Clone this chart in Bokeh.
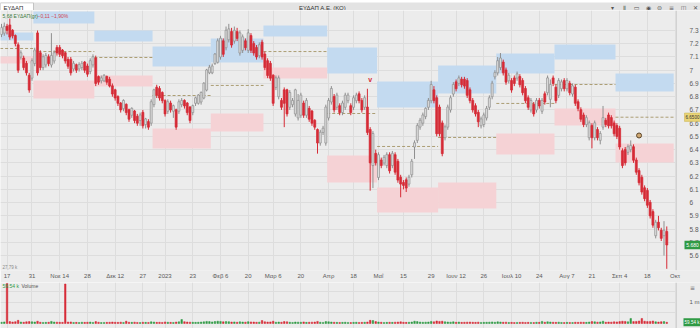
from bokeh.plotting import figure
from bokeh.models import Range1d, FixedTicker, Label, ColumnDataSource
from bokeh.layouts import column
from bokeh.embed import file_html
from bokeh.resources import INLINE
from bokeh.core.properties import value

# ---------------- data ----------------
OPEN = [
    7.27, 7.28, 7.33, 7.34, 7.30, 7.26, 7.19, 7.10, 7.09, 7.05,
    6.96, 6.94, 7.05, 7.28, 7.13, 7.02, 7.04, 7.10, 7.04, 7.07,
    7.17, 7.17, 7.15, 7.13, 7.08, 7.08, 7.01, 7.04, 7.01, 7.02,
    7.06, 7.03, 6.99, 7.04, 7.09, 6.95, 6.92, 6.92, 6.95, 6.93,
    6.88, 6.85, 6.80, 6.75, 6.71, 6.74, 6.70, 6.66, 6.69, 6.65,
    6.62, 6.68, 6.59, 6.61, 6.60, 6.74, 6.87, 6.86, 6.83, 6.77,
    6.69, 6.75, 6.69, 6.70, 6.69, 6.74, 6.77, 6.75, 6.72, 6.68,
    6.75, 6.75, 6.76, 6.79, 6.85, 6.98, 6.98, 7.05, 7.06, 7.10,
    7.22, 7.17, 7.23, 7.29, 7.22, 7.29, 7.13, 7.15, 7.22, 7.15,
    7.26, 7.20, 7.17, 7.11, 7.21, 7.12, 7.07, 7.05, 6.96, 6.87,
    6.80, 6.77, 6.85, 6.85, 6.72, 6.74, 6.67, 6.64, 6.66, 6.75,
    6.66, 6.71, 6.69, 6.62, 6.55, 6.45, 6.53, 6.45, 6.64, 6.76,
    6.80, 6.72, 6.73, 6.68, 6.72, 6.77, 6.73, 6.72, 6.77, 6.82,
    6.77, 6.72, 6.72, 6.55, 6.28, 6.37, 6.19, 6.32, 6.30, 6.28,
    6.36, 6.28, 6.36, 6.31, 6.19, 6.15, 6.17, 6.14, 6.21, 6.42,
    6.47, 6.57, 6.60, 6.65, 6.72, 6.77, 6.85, 6.79, 6.72, 6.60,
    6.49, 6.57, 6.70, 6.82, 6.91, 6.90, 6.93, 6.93, 6.92, 6.85,
    6.77, 6.73, 6.68, 6.58, 6.59, 6.64, 6.72, 6.80, 6.95, 6.98,
    7.02, 7.06, 7.00, 6.92, 6.92, 6.94, 6.94, 6.95, 6.92, 6.86,
    6.79, 6.70, 6.74, 6.70, 6.77, 6.69, 6.82, 6.83, 6.78, 6.94,
    6.87, 6.81, 6.86, 6.92, 6.86, 6.90, 6.82, 6.87, 6.76, 6.70,
    6.66, 6.59, 6.49, 6.58, 6.49, 6.55, 6.47, 6.57, 6.62, 6.66,
    6.64, 6.60, 6.58, 6.56, 6.39, 6.40, 6.38, 6.40, 6.42, 6.32,
    6.24, 6.19, 6.11, 6.09, 6.00, 5.93, 5.75, 5.85, 5.79, 5.75, 5.78,
]
HIGH = [
    7.35, 7.36, 7.35, 7.39, 7.31, 7.27, 7.21, 7.15, 7.11, 7.07,
    6.98, 7.09, 7.17, 7.30, 7.15, 7.12, 7.13, 7.12, 7.28, 7.15,
    7.19, 7.19, 7.16, 7.14, 7.10, 7.10, 7.07, 7.05, 7.06, 7.07,
    7.07, 7.05, 7.09, 7.12, 7.11, 6.96, 6.96, 6.97, 6.96, 6.95,
    6.90, 6.86, 6.81, 6.76, 6.78, 6.75, 6.71, 6.72, 6.70, 6.67,
    6.68, 6.70, 6.64, 6.63, 6.78, 6.86, 6.89, 6.88, 6.84, 6.78,
    6.78, 6.77, 6.74, 6.71, 6.78, 6.79, 6.78, 6.76, 6.73, 6.74,
    6.80, 6.82, 6.84, 6.91, 7.01, 7.04, 7.05, 7.13, 7.24, 7.26,
    7.24, 7.33, 7.35, 7.32, 7.33, 7.32, 7.30, 7.27, 7.24, 7.31,
    7.28, 7.22, 7.19, 7.21, 7.23, 7.14, 7.09, 7.07, 6.97, 6.96,
    6.96, 6.79, 6.87, 6.86, 6.85, 6.79, 6.86, 6.82, 6.83, 6.77,
    6.79, 6.73, 6.70, 6.63, 6.56, 6.55, 6.58, 6.74, 6.79, 6.88,
    6.82, 6.83, 6.75, 6.77, 6.83, 6.83, 6.75, 6.81, 6.83, 6.84,
    6.79, 6.81, 6.86, 6.57, 6.54, 6.40, 6.38, 6.34, 6.36, 6.38,
    6.38, 6.39, 6.38, 6.33, 6.21, 6.17, 6.19, 6.21, 6.33, 6.47,
    6.60, 6.64, 6.68, 6.72, 6.79, 6.92, 6.88, 6.81, 6.74, 6.62,
    6.59, 6.74, 6.81, 6.91, 6.93, 6.96, 6.95, 6.95, 6.94, 6.87,
    6.79, 6.75, 6.70, 6.65, 6.68, 6.73, 6.81, 6.92, 7.00, 7.10,
    7.13, 7.08, 7.02, 6.98, 6.94, 6.96, 6.99, 6.97, 6.94, 6.88,
    6.81, 6.79, 6.76, 6.79, 6.79, 6.79, 6.84, 6.96, 6.93, 6.96,
    6.89, 6.94, 6.93, 6.94, 6.94, 6.92, 6.90, 6.89, 6.78, 6.72,
    6.68, 6.66, 6.62, 6.60, 6.62, 6.57, 6.54, 6.73, 6.64, 6.68,
    6.66, 6.62, 6.60, 6.58, 6.41, 6.42, 6.44, 6.47, 6.44, 6.34,
    6.26, 6.21, 6.13, 6.11, 6.02, 5.95, 5.87, 5.90, 5.81, 5.86, 5.82,
]
LOW = [
    7.25, 7.26, 7.27, 7.23, 7.24, 7.18, 6.98, 7.08, 7.00, 6.96,
    6.83, 6.92, 7.03, 6.96, 7.00, 7.00, 7.02, 7.03, 7.02, 7.05,
    7.11, 7.10, 7.09, 7.05, 7.01, 6.96, 6.99, 6.98, 6.99, 7.00,
    6.98, 6.95, 6.97, 7.02, 6.88, 6.89, 6.90, 6.91, 6.89, 6.87,
    6.80, 6.77, 6.73, 6.68, 6.69, 6.66, 6.61, 6.64, 6.60, 6.58,
    6.58, 6.56, 6.56, 6.55, 6.58, 6.72, 6.79, 6.77, 6.75, 6.65,
    6.67, 6.68, 6.64, 6.55, 6.67, 6.72, 6.71, 6.66, 6.60, 6.66,
    6.73, 6.74, 6.74, 6.78, 6.84, 6.97, 6.97, 7.04, 7.05, 7.08,
    7.10, 7.15, 7.21, 7.17, 7.20, 7.22, 7.11, 7.13, 7.15, 7.13,
    7.13, 7.11, 7.08, 7.09, 7.08, 7.00, 6.94, 6.92, 6.73, 6.85,
    6.78, 6.70, 6.57, 6.65, 6.70, 6.72, 6.65, 6.62, 6.64, 6.64,
    6.64, 6.61, 6.58, 6.55, 6.37, 6.43, 6.51, 6.43, 6.62, 6.74,
    6.68, 6.70, 6.66, 6.66, 6.70, 6.75, 6.66, 6.70, 6.75, 6.75,
    6.68, 6.70, 6.51, 6.09, 6.11, 6.28, 6.17, 6.26, 6.28, 6.26,
    6.22, 6.26, 6.21, 6.15, 6.04, 6.10, 6.08, 6.12, 6.19, 6.33,
    6.45, 6.55, 6.58, 6.63, 6.70, 6.75, 6.75, 6.50, 6.50, 6.35,
    6.47, 6.55, 6.68, 6.80, 6.84, 6.88, 6.87, 6.86, 6.79, 6.75,
    6.68, 6.65, 6.57, 6.56, 6.57, 6.62, 6.70, 6.78, 6.93, 6.96,
    7.00, 6.96, 6.89, 6.90, 6.83, 6.88, 6.92, 6.87, 6.81, 6.75,
    6.70, 6.68, 6.65, 6.68, 6.71, 6.67, 6.74, 6.81, 6.72, 6.88,
    6.75, 6.79, 6.84, 6.84, 6.84, 6.81, 6.80, 6.73, 6.69, 6.61,
    6.57, 6.57, 6.47, 6.41, 6.47, 6.47, 6.44, 6.55, 6.57, 6.56,
    6.56, 6.50, 6.48, 6.40, 6.26, 6.28, 6.36, 6.38, 6.30, 6.21,
    6.13, 6.06, 6.01, 5.96, 5.88, 5.81, 5.73, 5.79, 5.71, 5.60, 5.50,
]
CLOSE = [
    7.32, 7.33, 7.30, 7.25, 7.26, 7.20, 7.00, 7.13, 7.02, 6.98,
    6.85, 7.07, 7.15, 6.98, 7.02, 7.10, 7.11, 7.05, 7.11, 7.13,
    7.13, 7.12, 7.11, 7.07, 7.03, 6.98, 7.05, 7.00, 7.04, 7.05,
    7.00, 6.97, 7.07, 7.10, 6.90, 6.91, 6.94, 6.96, 6.91, 6.88,
    6.82, 6.79, 6.75, 6.70, 6.77, 6.68, 6.63, 6.71, 6.62, 6.60,
    6.66, 6.58, 6.63, 6.57, 6.76, 6.85, 6.81, 6.79, 6.77, 6.67,
    6.76, 6.70, 6.73, 6.57, 6.76, 6.77, 6.73, 6.68, 6.62, 6.73,
    6.79, 6.81, 6.83, 6.90, 7.00, 7.02, 7.03, 7.12, 7.22, 7.24,
    7.12, 7.30, 7.31, 7.19, 7.30, 7.24, 7.28, 7.25, 7.17, 7.28,
    7.15, 7.13, 7.10, 7.19, 7.10, 7.02, 6.96, 6.94, 6.75, 6.94,
    6.94, 6.72, 6.75, 6.67, 6.83, 6.77, 6.85, 6.77, 6.81, 6.66,
    6.77, 6.63, 6.60, 6.57, 6.45, 6.53, 6.56, 6.72, 6.77, 6.86,
    6.70, 6.81, 6.68, 6.75, 6.81, 6.81, 6.68, 6.79, 6.81, 6.77,
    6.70, 6.79, 6.53, 6.30, 6.52, 6.30, 6.36, 6.28, 6.34, 6.36,
    6.24, 6.37, 6.23, 6.17, 6.14, 6.13, 6.11, 6.19, 6.31, 6.45,
    6.58, 6.62, 6.66, 6.71, 6.77, 6.89, 6.77, 6.52, 6.52, 6.37,
    6.57, 6.72, 6.79, 6.89, 6.86, 6.94, 6.89, 6.88, 6.81, 6.77,
    6.70, 6.67, 6.61, 6.63, 6.66, 6.71, 6.79, 6.90, 6.98, 7.07,
    7.09, 6.98, 6.91, 6.96, 6.85, 6.90, 6.97, 6.89, 6.83, 6.77,
    6.72, 6.77, 6.67, 6.77, 6.73, 6.77, 6.76, 6.94, 6.89, 6.90,
    6.77, 6.92, 6.91, 6.86, 6.92, 6.83, 6.88, 6.75, 6.71, 6.63,
    6.59, 6.64, 6.60, 6.49, 6.60, 6.49, 6.52, 6.64, 6.59, 6.58,
    6.58, 6.52, 6.50, 6.42, 6.28, 6.30, 6.42, 6.43, 6.32, 6.23,
    6.15, 6.08, 6.03, 5.98, 5.90, 5.83, 5.85, 5.81, 5.73, 5.79, 5.68,
]
VOLUME_K = [
    60, 75, 1900, 90, 70, 85, 150, 70, 60, 80,
    90, 80, 70, 110, 60, 50, 55, 60, 100, 70,
    65, 60, 55, 1880, 70, 75, 50, 55, 45, 60,
    55, 60, 70, 50, 90, 60, 45, 50, 55, 60,
    70, 60, 55, 65, 50, 110, 60, 55, 65, 50,
    45, 60, 55, 50, 80, 70, 55, 60, 50, 75,
    60, 55, 50, 70, 80, 190, 85, 70, 65, 60,
    55, 60, 70, 80, 100, 90, 75, 95, 110, 100,
    80, 90, 85, 70, 75, 60, 80, 70, 65, 85,
    75, 70, 60, 65, 140, 80, 70, 75, 110, 60,
    70, 60, 90, 80, 60, 50, 70, 65, 60, 75,
    55, 60, 65, 70, 100, 60, 50, 90, 80, 70,
    60, 55, 50, 55, 60, 50, 45, 55, 60, 50,
    55, 60, 70, 150, 140, 90, 70, 60, 50, 55,
    60, 55, 65, 70, 80, 60, 55, 60, 70, 110,
    90, 70, 60, 65, 70, 100, 80, 120, 100, 110,
    80, 70, 65, 80, 60, 70, 55, 60, 65, 70,
    60, 55, 65, 50, 55, 60, 65, 75, 60, 80,
    70, 60, 65, 50, 55, 45, 50, 55, 60, 50,
    55, 50, 45, 60, 55, 100, 60, 80, 70, 60,
    55, 65, 50, 45, 55, 50, 45, 60, 55, 65,
    60, 55, 70, 90, 80, 65, 75, 110, 60, 70,
    65, 80, 75, 90, 110, 100, 80, 240, 90, 100,
    120, 240, 110, 90, 100, 120, 80, 70, 85, 90, 59.54,
]

# monthly zones (trading-day index bounds, price levels)
MONTH_START = [-0.5, 11.5, 33.5, 54.5, 75.5, 94.5, 117.5, 135.5, 157.5, 178.5, 199.5, 221.5]
MONTH_END = [11.5, 33.5, 54.5, 75.5, 94.5, 117.5, 135.5, 157.5, 178.5, 199.5, 221.5, 242.5]
BLUE_TOP = [7.285, 7.444, 7.300, 7.179, 7.240, 7.338, 7.172, 6.915, 7.036, 7.126, 7.194, 6.975]
BLUE_BOT = [7.224, 7.353, 7.217, 7.028, 7.058, 7.255, 6.975, 6.718, 6.824, 6.975, 7.081, 6.839]
MID_LEVEL = [7.164, 7.141, 7.096, 6.809, 6.885, 7.141, 6.673, 6.424, 6.492, 6.749, 6.892, 6.645]
PINK_TOP = [7.104, 6.922, 6.960, 6.560, 6.673, 7.021, 6.356, 6.114, 6.152, 6.522, 6.711, 6.446]
PINK_BOT = [7.051, 6.786, 6.877, 6.409, 6.537, 6.937, 6.152, 5.925, 5.956, 6.363, 6.582, 6.303]

TICK_IDX = [2, 11, 21, 31, 41, 51, 59, 69, 79, 89, 98, 108, 118, 127, 136, 145,
            155, 164, 174, 184, 194, 204, 213, 223, 233, 243]
TICK_LABELS = ["17", "31", "Νοε 14", "28", "Δεκ 12", "27", "2023", "23", "Φεβ 6", "20",
               "Μαρ 6", "20", "Απρ", "18", "Μαΐ", "15", "29", "Ιουν 12", "26", "Ιουλ 10",
               "24", "Αυγ 7", "21", "Σεπ 4", "18", "Οκτ"]
PRICE_TICKS = [5.6, 5.7, 5.8, 5.9, 6.0, 6.1, 6.2, 6.3, 6.4, 6.5, 6.6, 6.7, 6.8, 6.9,
               7.0, 7.1, 7.2, 7.3]
PRICE_TICK_LABELS = ["5.6", "5.7", "5.8", "5.9", "6", "6.1", "6.2", "6.3", "6.4", "6.5",
                     "6.6", "6.7", "6.8", "6.9", "7", "7.1", "7.2", "7.3"]
VOLUME_TICKS = [1000]
VOLUME_TICK_LABELS = ["1 m"]

EVENT_V_IDX = [133]
EVENT_V_PRICE = [6.93]
EVENT_O_IDX = [230]
EVENT_O_PRICE = [6.507]

LAST_PRICE = 5.68
LAST_PRICE_TEXT = "5.680"
LAST_VOLUME = 59.54
LAST_VOLUME_TEXT = "59.54 k"
ZONE_LABEL = "6.6500"

# ---------------- styling / geometry ----------------
FONT = "Liberation Sans"
BG = "#ececec"
GRID = "#dddddd"
RED = "#d62b36"
UP_FILL = "#dedede"
UP_LINE = "#8f8f8f"
GREEN = "#2f9a44"
BLUE = "#c3daf0"
PINK = "#f5d2d5"
DASH = "#9c8a55"
AXIS_TXT = "#5a5a5a"

PX0, PX_PER_DAY = 1.0, 2.772          # screen mapping of the trading-day index
FRAME_W = 700
STRIP_L = 676                           # left edge of the price-scale strip (px)


def px_to_x(px):
    return (px - PX0) / PX_PER_DAY


xr = Range1d(px_to_x(0), px_to_x(FRAME_W))
P_LO, P_HI = 5.4873, 7.451            # price range of the 260 px frame
PPX = 260 / (P_HI - P_LO)
V_LO, V_HI = -238, 1952               # volume range (k) of the 46 px frame
VPX = 46 / (V_HI - V_LO)

n = len(CLOSE)
idx = list(range(n))
up = [c >= o for o, c in zip(OPEN, CLOSE)]
src = ColumnDataSource(dict(
    x=idx, h=HIGH, l=LOW,
    top=[max(o, c) + 0.002 for o, c in zip(OPEN, CLOSE)],
    bot=[min(o, c) for o, c in zip(OPEN, CLOSE)],
    fill=[UP_FILL if u else RED for u in up],
    line=[UP_LINE if u else RED for u in up],
    vol=VOLUME_K,
    vcol=[GREEN if u else RED for u in up],
))
zsrc = ColumnDataSource(dict(l=MONTH_START, r=MONTH_END, bt=BLUE_TOP, bb=BLUE_BOT,
                             m=MID_LEVEL, pt=PINK_TOP, pb=PINK_BOT))

# ---------------- header ----------------
hd = figure(width=700, height=10, x_range=Range1d(0, 700), y_range=Range1d(10, 0),
            toolbar_location=None, output_backend="svg", min_border=0,
            x_axis_location=None, y_axis_location=None,
            background_fill_color="#e3e3e3", border_fill_color="#e3e3e3",
            outline_line_color=None)
hd.xgrid.visible = False
hd.ygrid.visible = False
hd.quad(left=[0], right=[33], top=[0.3], bottom=[9.7], fill_color="white", line_color="#b8b8b8", line_width=0.8)
hd.text(x=[3], y=[5.3], text=["ΕΥΔΑΠ"], text_font=value(FONT), text_font_size="6px",
        text_color="#333333", text_baseline="middle")
hd.text(x=[322], y=[5.3], text=["ΕΥΔΑΠ Α.Ε. (ΚΟ)"], text_font=value(FONT), text_font_size="6px",
        text_color="#333333", text_baseline="middle", text_align="center")
hd.text(x=[612, 624, 636, 648, 659, 671, 683, 695],
        y=[5.3] * 8, text=["▾", "ǁ", "▭", "◉", "⊜", "≡", "◫", "✕"],
        text_font=value("DejaVu Sans"), text_font_size="6px", text_color="#555555",
        text_baseline="middle", text_align="center")

# ---------------- price panel ----------------
p = figure(width=700, height=272, x_range=xr, y_range=Range1d(P_LO, P_HI),
           toolbar_location=None, output_backend="svg", y_axis_location=None,
           min_border_left=0, min_border_right=0, min_border_top=0, min_border_bottom=12,
           background_fill_color=BG, border_fill_color=BG, outline_line_color=None)
p.xaxis.ticker = FixedTicker(ticks=TICK_IDX)
p.xaxis.major_label_overrides = {t: s for t, s in zip(TICK_IDX, TICK_LABELS)}
ax = p.xaxis[0]
ax.axis_line_color = None
ax.major_tick_line_color = None
ax.minor_tick_line_color = None
ax.major_tick_out = 0
ax.major_tick_in = 0
ax.major_label_text_font = FONT
ax.major_label_text_color = AXIS_TXT
ax.major_label_text_font_size = "6px"
ax.major_label_standoff = 2
p.xgrid.grid_line_color = GRID
p.ygrid.grid_line_color = GRID
p.xgrid.ticker = FixedTicker(ticks=TICK_IDX)
p.ygrid.ticker = FixedTicker(ticks=PRICE_TICKS)

p.quad(left="l", right="r", top="bt", bottom="bb", source=zsrc, fill_color=BLUE, line_color=None)
p.quad(left="l", right="r", top="pt", bottom="pb", source=zsrc, fill_color=PINK, line_color=None)
p.segment(x0="l", y0="m", x1="r", y1="m", source=zsrc, line_color=DASH, line_dash="3 2", line_width=0.8)

p.segment(x0="x", y0="h", x1="x", y1="l", source=src, line_color="line", line_width=1)
p.vbar(x="x", top="top", bottom="bot", width=0.72, source=src,
       fill_color="fill", line_color="line", line_width=0.7)

p.text(x=EVENT_V_IDX, y=EVENT_V_PRICE, text=["v"], text_color=RED, text_font=value(FONT),
       text_font_size="7px", text_font_style="bold", text_align="center", text_baseline="middle")
p.scatter(x=EVENT_O_IDX, y=EVENT_O_PRICE, size=5, fill_color="#cfa873", line_color="#5a4326", line_width=1)

# price-scale strip on the right
p.quad(left=[px_to_x(STRIP_L)], right=[px_to_x(FRAME_W + 2)], top=[P_HI], bottom=[P_LO],
       fill_color=BG, line_color=None)
p.segment(x0=[px_to_x(STRIP_L)], y0=[P_LO], x1=[px_to_x(STRIP_L)], y1=[P_HI],
          line_color="#d2d2d2", line_width=1)
p.text(x=[px_to_x(689)] * len(PRICE_TICKS), y=PRICE_TICKS, text=PRICE_TICK_LABELS,
       text_font=value(FONT), text_font_size="6.5px", text_color=AXIS_TXT, text_baseline="middle")
h4 = 4.2 / PPX
p.quad(left=[px_to_x(684)], right=[px_to_x(700)], top=[MID_LEVEL[-1] + h4], bottom=[MID_LEVEL[-1] - h4],
       fill_color="#e9d476", line_color="#c9b24e", line_width=0.5)
p.text(x=[px_to_x(692)], y=[MID_LEVEL[-1]], text=[ZONE_LABEL], text_font=value(FONT),
       text_font_size="4.5px", text_color="#333333", text_baseline="middle", text_align="center")
p.quad(left=[px_to_x(684)], right=[px_to_x(700)], top=[LAST_PRICE + h4], bottom=[LAST_PRICE - h4],
       fill_color=GREEN, line_color=None)
p.text(x=[px_to_x(692)], y=[LAST_PRICE], text=[LAST_PRICE_TEXT], text_font=value(FONT),
       text_font_size="5px", text_color="white", text_baseline="middle", text_align="center")

p.add_layout(Label(x=px_to_x(2), y=P_HI - 5 / PPX, text="5,68 ΕΥΔΑΠ(gr)", text_font=FONT,
                   text_font_size="5px", text_color="#3b7a3b", text_baseline="middle"))
p.add_layout(Label(x=px_to_x(37), y=P_HI - 5 / PPX, text="−0,11 −1,90%", text_font=FONT,
                   text_font_size="5px", text_color="#d0454f", text_baseline="middle"))
p.add_layout(Label(x=px_to_x(2), y=P_LO + 3 / PPX, text="27,79 k", text_font=FONT,
                   text_font_size="4.5px", text_color="#8a8a8a", text_baseline="middle"))

# ---------------- volume panel ----------------
v = figure(width=700, height=46, x_range=xr, y_range=Range1d(V_LO, V_HI),
           toolbar_location=None, output_backend="svg", y_axis_location=None,
           x_axis_location=None, min_border=0,
           background_fill_color=BG, border_fill_color=BG, outline_line_color=None)
v.xgrid.ticker = FixedTicker(ticks=TICK_IDX)
v.xgrid.grid_line_color = GRID
v.ygrid.ticker = FixedTicker(ticks=[500, 1000, 1500])
v.ygrid.grid_line_color = GRID

v.vbar(x="x", top="vol", bottom=0, width=0.55, source=src, fill_color="vcol", line_color="vcol",
       line_width=0.5)
v.quad(left=[px_to_x(STRIP_L)], right=[px_to_x(FRAME_W + 2)], top=[V_HI], bottom=[V_LO],
       fill_color=BG, line_color=None)
v.segment(x0=[px_to_x(STRIP_L)], y0=[V_LO], x1=[px_to_x(STRIP_L)], y1=[V_HI],
          line_color="#d2d2d2", line_width=1)
v.text(x=[px_to_x(689)] * len(VOLUME_TICKS), y=VOLUME_TICKS, text=VOLUME_TICK_LABELS,
       text_font=value(FONT), text_font_size="6px", text_color=AXIS_TXT, text_baseline="middle")
v.text(x=[px_to_x(692)], y=[V_HI - 4.5 / VPX], text=["≡"], text_font=value("DejaVu Sans"),
       text_font_size="6px", text_color="#666666", text_baseline="middle", text_align="center")
hv = 4.0 / VPX
v.quad(left=[px_to_x(683)], right=[px_to_x(700)], top=[LAST_VOLUME + hv], bottom=[LAST_VOLUME - hv],
       fill_color=GREEN, line_color=None)
v.text(x=[px_to_x(691.5)], y=[LAST_VOLUME], text=[LAST_VOLUME_TEXT], text_font=value(FONT),
       text_font_size="4.5px", text_color="white", text_baseline="middle", text_align="center")
v.add_layout(Label(x=px_to_x(2), y=V_HI - 3.5 / VPX, text="59.54 k", text_font=FONT,
                   text_font_size="5px", text_color=GREEN, text_baseline="middle"))
v.add_layout(Label(x=px_to_x(21), y=V_HI - 3.5 / VPX, text="Volume", text_font=FONT,
                   text_font_size="5px", text_color="#555555", text_baseline="middle"))

layout = column(hd, p, v, spacing=0)
open("out.html", "w").write(file_html(layout, INLINE))
